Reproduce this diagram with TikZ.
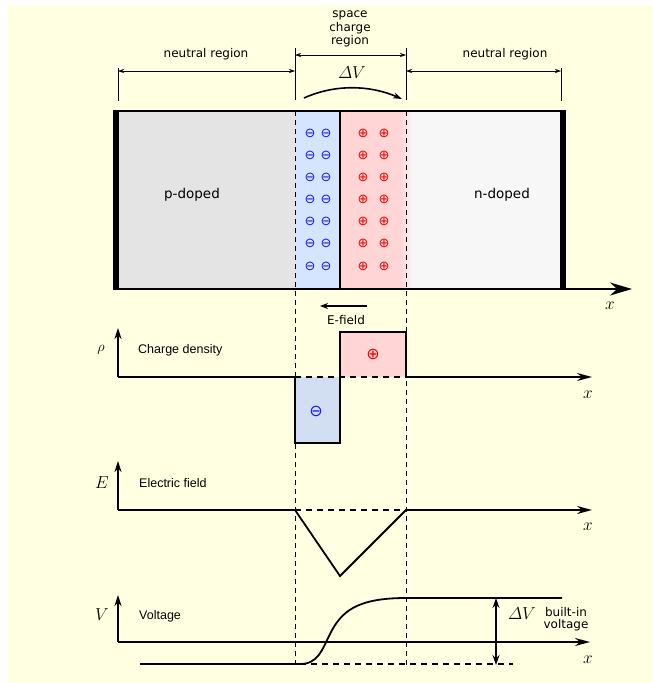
\documentclass[tikz,border=0pt]{standalone}
\usepackage{amsmath,amssymb}
\usepackage{fontspec}
\setmainfont{DejaVu Sans}
\newfontfamily\arialfont{Liberation Sans}
\usepackage{tikz}
\usetikzlibrary{arrows.meta}

\definecolor{bgyellow}{RGB}{255,255,225}
\definecolor{pgray}{RGB}{228,228,228}
\definecolor{ngray}{RGB}{247,247,247}
\definecolor{dblue}{RGB}{213,229,255}
\definecolor{dred}{RGB}{255,213,213}
\definecolor{pblue}{RGB}{210,222,242}
\definecolor{negblue}{RGB}{25,25,235}
\definecolor{posred}{RGB}{240,0,0}

\begin{document}
\begin{tikzpicture}[x=1pt,y=-1pt,
  lbl/.style={font=\fontsize{12}{13.5}\selectfont,inner sep=0pt},
  plotlbl/.style={font=\arialfont\fontsize{12.5}{14}\selectfont,inner sep=0pt,anchor=west},
  mlbl/.style={font=\fontsize{16}{18}\selectfont,inner sep=0pt},
  dim/.style={line width=.6pt,{Stealth[length=6pt,width=4pt]}-{Stealth[length=6pt,width=4pt]}},
  sep/.style={line width=.7pt,dash pattern=on 5pt off 4pt},
  thickdash/.style={line width=1.6pt,dash pattern=on 6pt off 5pt},
  plotline/.style={line width=1.8pt},
  axis/.style={line width=1.8pt,-{Stealth[length=15pt,width=8pt]}},
  yaxis/.style={line width=1.8pt,-{Stealth[length=11pt,width=7pt]}},
  negcharge/.style={text=negblue,font=\fontsize{13}{13}\selectfont,inner sep=0pt},
  poscharge/.style={text=posred,font=\fontsize{13}{13}\selectfont,inner sep=0pt}]
  \useasboundingbox (0,0) rectangle (653,683);
  \fill[white] (0,0) rectangle (653,683);
  \fill[bgyellow] (8,5) rectangle (653,683);

  % widths of the regions
  \draw[line width=.6pt] (118,68)--(118,101) (295,48)--(295,100) (406,48)--(406,100) (561,68)--(561,101);
  \draw[dim] (118,71) -- (295,71);
  \draw[dim] (295,55) -- (406,55);
  \draw[dim] (406,71) -- (561,71);
  \node[lbl] (nleft) at (206,54) {neutral region};
  \node[lbl,align=center] (scr) at (350,29) {space\\charge\\region};
  \node[lbl] (nright) at (505,54) {neutral region};
  \node[mlbl,font=\fontsize{18}{20}\selectfont] (dVtop) at (352,73) {$\varDelta V$};
  \draw[line width=1.6pt,-{Stealth[length=9pt,width=6pt]}] (304,98) .. controls (335,84) and (370,85) .. (402,99);

  % the junction
  \fill[pgray] (113,111) rectangle (295,289);
  \fill[dblue] (295,111) rectangle (340,289);
  \fill[dred] (340,111) rectangle (400,289);
  \shade[left color=dred,right color=ngray] (400,111) rectangle (413,289);
  \fill[ngray] (413,111) rectangle (563,289);
  \draw[line width=2.2pt] (113,111) -- (566,111);
  \fill (113,110) rectangle (119,290); \fill (560,110) rectangle (566,290);
  \draw[line width=1.5pt] (340,111) -- (340,289);
  \draw[line width=2.2pt,-{Stealth[length=22pt,width=13pt]}] (113,289) -- (632,289);
  \node[mlbl] (x0) at (610,306) {$x$};
  \node[lbl,font=\fontsize{13.5}{15}\selectfont] (pdop) at (192,195) {p-doped};
  \node[lbl,font=\fontsize{13.5}{15}\selectfont] (ndop) at (502,195) {n-doped};
  \foreach \r in {0,...,6} {
    \node[negcharge] (ma\r) at (310,{133+22.17*\r}) {⊖};
    \node[negcharge] (mb\r) at (326,{133+22.17*\r}) {⊖};
    \node[poscharge] (pa\r) at (363,{133+22.17*\r}) {⊕};
    \node[poscharge] (pb\r) at (384,{133+22.17*\r}) {⊕};
  }
  \draw[sep] (295,111) -- (295,668);
  \draw[sep] (406,111) -- (406,668);
  \draw[line width=1.5pt,-{Stealth[length=8pt,width=6pt]}] (367,306) -- (320,306);
  \node[lbl] (efield) at (346,320) {E-field};

  % charge density
  \fill[pblue] (295,377) rectangle (340,443);
  \fill[dred] (340,332) rectangle (406,377);
  \draw[plotline] (295,377) -- (295,443) -- (340,443) -- (340,332) -- (406,332) -- (406,377);
  \draw[yaxis] (118,377) -- (118,328);
  \draw[plotline] (118,377) -- (295,377);
  \draw[thickdash] (295,377) -- (406,377);
  \draw[axis] (406,377) -- (592,377);
  \node[text=negblue,font=\fontsize{16}{16}\selectfont,inner sep=0pt] (mrho) at (316,411) {⊖};
  \node[text=posred,font=\fontsize{16}{16}\selectfont,inner sep=0pt] (prho) at (373,354) {⊕};
  \node[mlbl,font=\fontsize{14}{16}\selectfont] (rho) at (101,350) {$\rho$};
  \node[plotlbl] (cdens) at (138,350) {Charge density};
  \node[mlbl] (x1) at (588,395) {$x$};

  % electric field
  \draw[yaxis] (118,510) -- (118,461);
  \draw[plotline] (118,510) -- (295,510) -- (340,576) -- (406,510);
  \draw[thickdash] (295,510) -- (406,510);
  \draw[axis] (406,510) -- (592,510);
  \node[mlbl] (Elab) at (102,483) {$E$};
  \node[plotlbl] (efld) at (139,483) {Electric field};
  \node[mlbl] (x2) at (588,527) {$x$};

  % voltage
  \draw[yaxis] (118,642) -- (118,595);
  \draw[axis] (118,642) -- (590,642);
  \draw[thickdash] (300,664) -- (513,664);
  \draw[plotline] (140,664) -- (300,664) .. controls (318,664) and (322,650) .. (330,634)
    .. controls (341,612) and (356,598) .. (406,598) -- (562,598);
  \draw[line width=1.6pt,{Stealth[length=10pt,width=7pt]}-{Stealth[length=10pt,width=7pt]}] (496,598) -- (496,665);
  \node[mlbl] (Vlab) at (102,615) {$V$};
  \node[plotlbl] (volt) at (139,616) {Voltage};
  \node[mlbl,font=\fontsize{17}{19}\selectfont] (dVbi) at (522,614) {$\varDelta V$};
  \node[lbl,align=center,font=\fontsize{12}{11.5}\selectfont] (bivolt) at (566,619) {built-in\\voltage};
  \node[mlbl] (x3) at (588,660) {$x$};
\end{tikzpicture}
\end{document}
